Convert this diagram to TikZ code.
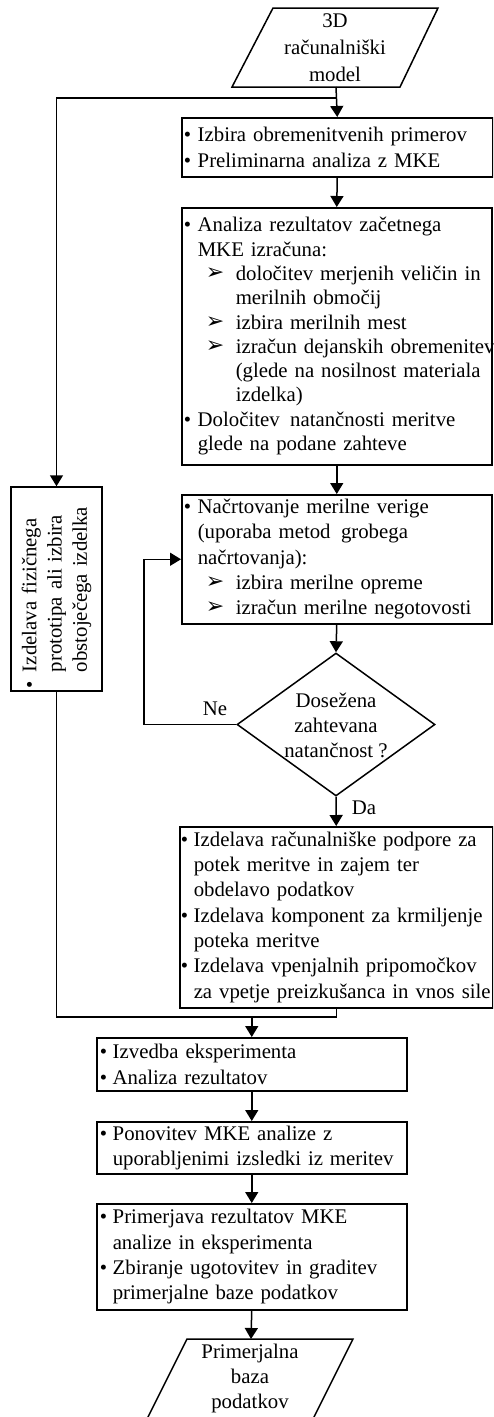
\documentclass[tikz,border=0pt]{standalone}
\usepackage{fontspec}
\setmainfont{Liberation Serif}
\newfontfamily\dvfont{DejaVu Sans}
\usetikzlibrary{arrows.meta,shapes.geometric}
\newcommand\bulit{\makebox[14pt][l]{•}}
\newcommand\indit{\hspace*{14pt}}
\newcommand\subit{\hspace*{22pt}\makebox[30pt][l]{\raisebox{1pt}{\dvfont\fontsize{22}{22}\selectfont ➢}}}
\newcommand\subind{\hspace*{52pt}}
\newcommand\lin[1]{\mbox{#1}}
\begin{document}
\begin{tikzpicture}[x=1pt,y=-1pt,
  txt/.style={font=\fontsize{20.8}{25.3}\selectfont},
  box/.style={draw, line width=1.5pt, rectangle, inner xsep=2pt, inner ysep=0pt,
    align=left, anchor=north west, txt},
  ln/.style={line width=1.5pt},
  arr/.style={line width=1.5pt, -{Triangle[width=13pt,length=11pt]}},
  dia/.style={draw, diamond, line width=1.5pt, inner sep=0pt, minimum width=198pt, minimum height=143pt}
]
\useasboundingbox (0,0) rectangle (493,1417);
\clip (0,0) rectangle (493,1417);

% input parallelogram
\draw[ln] (232,87) -- (273,8) -- (438,8) -- (400,87) -- cycle;
\node[txt, align=center, font=\fontsize{20.8}{27}\selectfont] (in) at (335,47.5) {3D\\računalniški\\model};
\coordinate (inb) at (336,87);
\coordinate (br) at (336,98);

% boxes
\node[box, text width=307pt, minimum height=59pt] (b1) at (181,117)
  {\lin{\bulit Izbira obremenitvenih primerov}\\\lin{\bulit Preliminarna analiza z MKE}};

\node[box, text width=306pt, minimum height=257pt, font=\fontsize{20.8}{24.3}\selectfont] (b2) at (181,207)
  {\lin{\bulit Analiza rezultatov začetnega}\\
   \lin{\indit MKE izračuna:}\\
   \lin{\subit določitev merjenih veličin in}\\
   \lin{\subind merilnih območij}\\
   \lin{\subit izbira merilnih mest}\\
   \lin{\subit izračun dejanskih obremenitev}\\
   \lin{\subind (glede na nosilnost materiala}\\
   \lin{\subind izdelka)}\\
   \lin{\bulit Določitev\, natančnosti meritve}\\
   \lin{\indit glede na podane zahteve}};

\node[box, text width=306pt, minimum height=129pt] (b3) at (181,494)
  {\lin{\bulit Načrtovanje merilne verige}\\
   \lin{\indit (uporaba metod\, grobega}\\
   \lin{\indit načrtovanja):}\\
   \lin{\subit izbira merilne opreme}\\
   \lin{\subit izračun merilne negotovosti}};

\node[dia] (d) at (336,724.5) {};
\node[txt, align=center, font=\fontsize{20.8}{25}\selectfont] (dt) at (336,725) {Dosežena\\zahtevana\\natančnost ?};

\node[box, inner xsep=1pt, text width=311pt, minimum height=181pt] (b4) at (179,826)
  {\lin{\makebox[13pt][l]{•}Izdelava računalniške podpore za}\\
   \lin{\hspace*{13pt}potek meritve in zajem ter}\\
   \lin{\hspace*{13pt}obdelavo podatkov}\\
   \lin{\makebox[13pt][l]{•}Izdelava komponent za krmiljenje}\\
   \lin{\hspace*{13pt}poteka meritve}\\
   \lin{\makebox[13pt][l]{•}Izdelava vpenjalnih pripomočkov}\\
   \lin{\hspace*{13pt}za vpetje preizkušanca in vnos sile}};

\node[box, inner xsep=3pt, text width=304pt, minimum height=53pt] (b5) at (96,1037)
  {\lin{\makebox[13pt][l]{•}Izvedba eksperimenta}\\\lin{\makebox[13pt][l]{•}Analiza rezultatov}};

\node[box, inner xsep=3pt, text width=304pt, minimum height=52pt] (b6) at (96,1121)
  {\lin{\makebox[13pt][l]{•}Ponovitev MKE analize z}\\\lin{\hspace*{13pt}uporabljenimi izsledki iz meritev}};

\node[box, inner xsep=3pt, text width=304pt, minimum height=106pt] (b7) at (96,1203)
  {\lin{\makebox[13pt][l]{•}Primerjava rezultatov MKE}\\
   \lin{\hspace*{13pt}analize in eksperimenta}\\
   \lin{\makebox[13pt][l]{•}Zbiranje ugotovitev in graditev}\\
   \lin{\hspace*{13pt}primerjalne baze podatkov}};

% left rotated box
\node[box, anchor=center, rotate=90, inner xsep=3pt, text width=198pt, minimum height=91pt] (lb) at (56.5,589)
  {\lin{\makebox[16pt][l]{•}Izdelava fizičnega}\\
   \lin{\hspace*{16pt}prototipa ali izbira}\\
   \lin{\hspace*{16pt}obstoječega izdelka}};

% output parallelogram
\draw[ln] (147,1419) -- (187,1339) -- (353,1339) -- (313,1419);
\node[txt, align=center, font=\fontsize{20.8}{25}\selectfont] (out) at (250,1378) {Primerjalna\\baza\\podatkov};
\coordinate (outt) at (251,1339);

% connectors
\draw[arr] (inb) -- (b1.north);
\draw[arr] (br) -| (lb.east);
\draw[arr] (b1.south) -- (b2.north);
\draw[arr] (b2.south) -- (b3.north);
\draw[arr] (b3.south) -- (d.north);
\coordinate (lp) at (144,724.5);
\draw[arr] (d.west) -- (lp) |- (b3.west);
\node[txt] (ne) at (215,709) {Ne};
\draw[arr] (d.south) -- (b4.north);
\node[txt] (da) at (364,808) {Da};
\coordinate (j) at (b4.south |- 0,1017);
\draw[ln] (lb.west) |- (j) -- (b4.south);
\coordinate (j2) at (b5.north |- j);
\draw[arr] (j2) -- (b5.north);
\draw[arr] (b5.south) -- (b6.north);
\draw[arr] (b6.south) -- (b7.north);
\draw[arr] (b7.south) -- (outt);
\end{tikzpicture}
\end{document}
